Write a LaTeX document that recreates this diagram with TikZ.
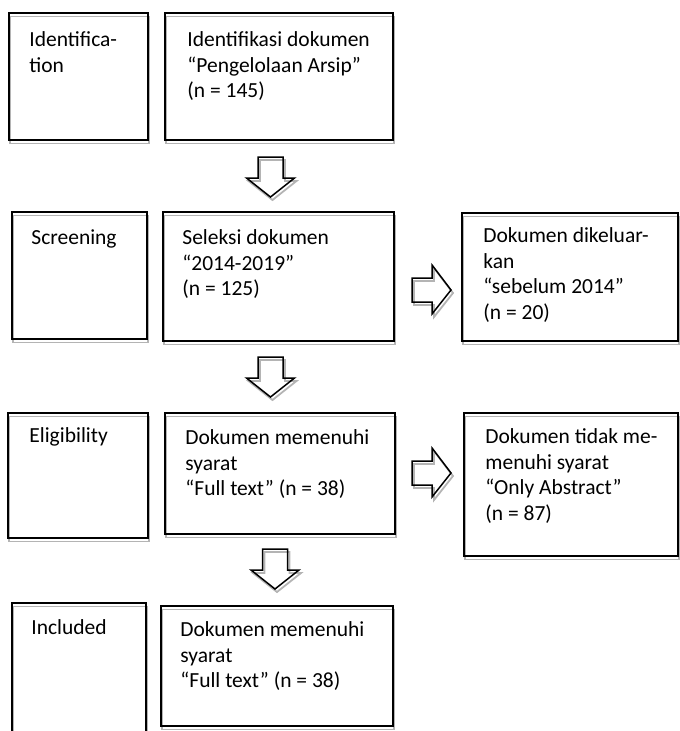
\documentclass[tikz,border=0pt]{standalone}
\usepackage{fontspec}
\setmainfont{Carlito}
\usepackage{xcolor}
\usepackage{tikz}
\usetikzlibrary{positioning,calc,fit}
\definecolor{shadeG}{HTML}{B4B4B4}

\begin{document}
\begin{tikzpicture}[
  x=1pt,y=-1pt,
  font=\fontsize{21.5}{25.8}\selectfont,
  box/.style={draw=black,line width=1.6pt,inner sep=0pt},
  boxshade/.style={draw=shadeG,line width=1.8pt},
  txt/.style={anchor=north west,inner sep=0pt,align=left},
  arrowline/.style={draw=black,line width=1.5pt,line join=miter},
  arrowshade/.style={draw=shadeG,line width=1.8pt,line join=miter},
  pics/downarrow/.style={code={
    \draw[arrowshade] (-10.5,3) -- (14.5,3) -- (14.5,24) -- (26,24) -- (2,43) -- (-22,24) -- (-10.5,24) -- cycle;
    \draw[arrowline] (-12.5,0) -- (12.5,0) -- (12.5,21) -- (24,21) -- (0,40) -- (-24,21) -- (-12.5,21) -- cycle;
  }},
  pics/rightarrow/.style={code={
    \draw[arrowshade] (2,-9) -- (22,-9) -- (22,-22) -- (41,3) -- (22,27) -- (22,15) -- (2,15) -- cycle;
    \draw[arrowline] (0,-12) -- (20,-12) -- (20,-25) -- (39,0) -- (20,24) -- (20,12) -- (0,12) -- cycle;
  }}
]
\useasboundingbox (0,0) rectangle (680,731);
\clip (0,0) rectangle (680,731);

% Boxes (name/left/top/right/bottom)
\foreach \nm/\xa/\ya/\xb/\yb in {
    idlabel/9/13/148/140, idbox/165/13/393/140,
    scrlabel/12/212/147/339, scrbox/163/212/394/341, exclbox/462/213/678/341,
    elglabel/8/413/148/538, elgbox/165/413/395/534, rejbox/464/413/678/556,
    inclabel/12/603/146/760, incbox/161/606/393/726} {
  \draw[boxshade] (\xa+1,\ya+3.5) rectangle (\xb+1,\yb+3.5);
  \node[box,fit={(\xa,\ya) (\xb,\yb)}] (\nm) {};
}

% Identification
\node[txt] (idlabeltxt) at ([shift={(21,15.8)}]idlabel.north west) {\strut Identifica-\\tion};
\node[txt] (idboxtxt) at ([shift={(23,15.8)}]idbox.north west)
  {\strut Identifikasi dokumen\\“Pengelolaan Arsip”\\(n = 145)};
\pic at (270.5,157) {downarrow};

% Screening
\node[txt] (scrlabeltxt) at ([shift={(20,14.8)}]scrlabel.north west) {\strut Screening};
\node[txt] (scrboxtxt) at ([shift={(20,14.8)}]scrbox.north west)
  {\strut Seleksi dokumen\\“2014-2019”\\(n = 125)};
\node[txt] (exclboxtxt) at ([shift={(22,11.8)}]exclbox.north west)
  {\strut Dokumen dikeluar-\\kan\\“sebelum 2014”\\(n = 20)};
\pic at (412,290) {rightarrow};
\pic at (270.5,357) {downarrow};

% Eligibility
\node[txt] (elglabeltxt) at ([shift={(22,11.8)}]elglabel.north west) {\strut Eligibility};
\node[txt] (elgboxtxt) at ([shift={(21,13.8)}]elgbox.north west)
  {\strut Dokumen memenuhi\\syarat\\“Full text” (n = 38)};
\node[txt] (rejboxtxt) at ([shift={(22,12.8)}]rejbox.north west)
  {\strut Dokumen tidak me-\\menuhi syarat\\“Only Abstract”\\(n = 87)};
\pic at (412,473) {rightarrow};
\pic at (275,549) {downarrow};

% Included
\node[txt] (inclabeltxt) at ([shift={(20,13.8)}]inclabel.north west) {\strut Included};
\node[txt] (incboxtxt) at ([shift={(20,12.8)}]incbox.north west)
  {\strut Dokumen memenuhi\\syarat\\“Full text” (n = 38)};
\end{tikzpicture}
\end{document}
